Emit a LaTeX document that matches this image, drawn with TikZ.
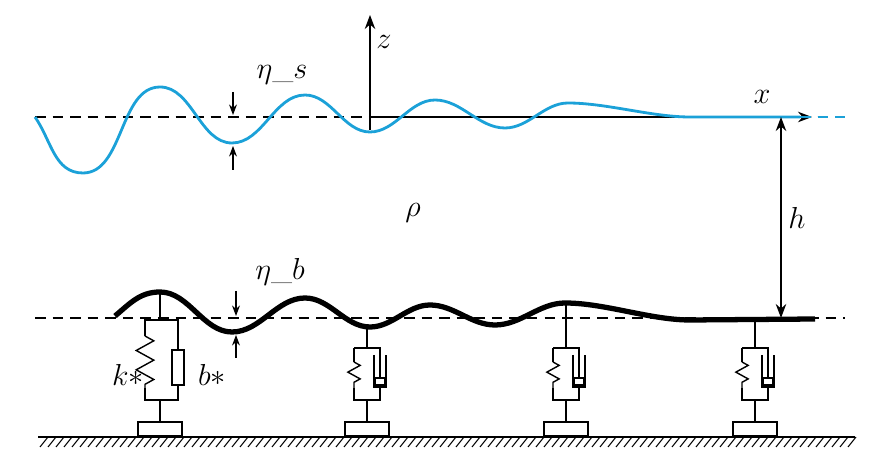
\documentclass[tikz,border=0pt]{standalone}
\usetikzlibrary{arrows.meta, decorations.pathmorphing, patterns}
\definecolor{wblue}{HTML}{1ba1d8}

\tikzset{
  lbl/.style={font=\LARGE, inner sep=1pt},
  pin/.style={-{Stealth[length=6pt]}, semithick},
  mean/.style={thick, dash pattern=on 6pt off 4pt},
  wv/.style={out=0, in=180, looseness=0.9},
  spring/.style={decorate, decoration={zigzag, amplitude=#1, segment length=#1*2.2}},
}

\begin{document}
\begin{tikzpicture}[x=0.02cm, y=-0.02cm]
  \useasboundingbox (0,0) rectangle (880,455);

  % axes and mean levels
  \draw[mean] (35,117) -- (370,117);
  \draw[mean] (800,117) -- (845,117);
  \draw[mean] (35,318) -- (845,318);
  \coordinate (xo) at (370,117);
  \coordinate (xe) at (812,117);
  \draw[-{Stealth[length=8pt]}, thick] (xo) -- (xe);
  \coordinate (zo) at (370,130);
  \coordinate (ze) at (370,15);
  \draw[-{Stealth[length=8pt]}, thick] (zo) -- (ze);
  \node[lbl] (xl) at (762,97) {$x$};
  \node[lbl] (zl) at (384,42) {$z$};

  % free surface
  \draw[wblue, line width=1.6pt] (35,117) to[out=-55, in=180] (83,173)
    to[wv] (160,87) to[wv] (232,143) to[wv] (305,95) to[wv] (370,132)
    to[wv] (435,100) to[wv] (505,128) to[wv] (568,103)
    to[out=0, in=180, looseness=0.8] (690,117) -- (800,117);
  \draw[wblue, line width=1.6pt, dash pattern=on 6pt off 4pt] (800,117) -- (845,117);

  % elastic bottom
  \draw[line width=3pt] (115,316) to[out=40, in=180] (160,292)
    to[wv] (232,332) to[wv] (305,298) to[wv] (370,327) to[wv] (430,305)
    to[wv] (495,325) to[wv] (565,303)
    to[out=0, in=180, looseness=0.8] (690,320) -- (815,319);

  % depth
  \coordinate (ht) at (781,117);
  \coordinate (hb) at (781,318);
  \draw[{Stealth[length=8pt]}-{Stealth[length=8pt]}, thick] (ht) -- (hb);
  \node[lbl] (h) at (797,218) {$h$};
  \node[lbl] (rho) at (413,213) {$\rho$};

  % amplitudes
  \node[lbl] (etas) at (282,75) {$\eta$\_$s$};
  \draw[pin] (233,92) -- (233,115);
  \draw[pin] (233,170) -- (233,146);
  \node[lbl] (etab) at (280,272) {$\eta$\_$b$};
  \draw[pin] (236,291) -- (236,316);
  \draw[pin] (236,358) -- (236,335);

  % supports
  \draw[thick] (160,292) -- (160,320);
  \draw[thick] (145,320) rectangle (178,400);
  \draw[white, line width=3pt] (145,336) -- (145,388);
  \draw[thick] (145,336) [spring=5pt] -- (145,388);
  \draw[thick, fill=white] (172,350) rectangle (184,385);
  \draw[thick] (160,400) -- (160,422);
  \draw[thick] (138,422) rectangle (182,436);
  \node[lbl] (k) at (128,375) {$k*$};
  \node[lbl] (b) at (212,375) {$b*$};

  \foreach \sx/\st in {367/327, 566/303, 755/319} {
    \draw[thick] (\sx,\st) -- (\sx,348);
    \draw[thick] (\sx-13,348) -- (\sx+13,348) -- (\sx+13,378);
    \draw[thick] (\sx-13,348) -- (\sx-13,362);
    \draw[thick] (\sx-13,362) [spring=3.5pt] -- (\sx-13,388);
    \draw[thick] (\sx-13,388) -- (\sx-13,400) -- (\sx+13,400) -- (\sx+13,387);
    \draw[thick] (\sx+7,355) -- (\sx+7,387) -- (\sx+19,387) -- (\sx+19,355);
    \draw[thick] (\sx+8,378) rectangle (\sx+18,385);
    \draw[thick] (\sx,400) -- (\sx,422);
    \draw[thick] (\sx-22,422) rectangle (\sx+22,436);
  }

  % ground
  \foreach \gx in {40,48,...,850}
    \draw[semithick] (\gx,447) -- (\gx+8,437);
  \draw[thick] (38,437) -- (855,437);
\end{tikzpicture}
\end{document}
